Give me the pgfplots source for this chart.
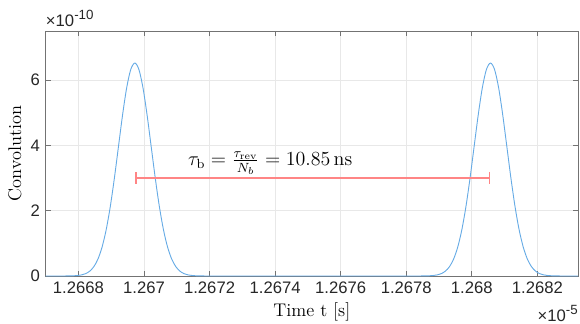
\documentclass[border=0pt]{standalone}
\usepackage{pgfplots}
\pgfplotsset{compat=1.18}
\usepackage{fontspec}
\usetikzlibrary{arrows.meta}
\newfontfamily\helv{Liberation Sans}

\definecolor{convblue}{rgb}{0.40,0.67,0.90}
\definecolor{barred}{rgb}{1.00,0.52,0.52}
\definecolor{axgray}{gray}{0.45}

% Convolution of the bunch profile; time in ns after t0 = 12.660 us,
% amplitude in units of 1e-10.
\begin{document}
\begin{tikzpicture}
\begin{axis}[
  scale only axis,
  width=319.4pt, height=147pt,
  xmin=7, xmax=23.24, ymin=0, ymax=7.5,
  xtick={8,10,12,14,16,18,20,22},
  xticklabels={1.2668,1.267,1.2672,1.2674,1.2676,1.2678,1.268,1.2682},
  ytick={0,2,4,6},
  yticklabels={0,2,4,6},
  tick align=inside,
  major tick length=3pt,
  grid=major,
  major grid style={line width=0.4pt, gray!18},
  axis line style={line width=0.5pt, axgray},
  every tick/.style={axgray, line width=0.5pt},
  tick label style={font=\helv\fontsize{10}{12}\selectfont, text=black!85},
  /pgf/number format/assume math mode=true,
  label style={font=\fontsize{11}{13}\selectfont},
  xlabel={Time t [s]},
  ylabel={Convolution},
  xlabel style={at={(axis description cs:0.5,-0.147)}, anchor=center},
  ylabel style={at={(axis description cs:-0.058,0.5)}, anchor=center},
  clip=false,
]
\addplot[convblue, line width=0.55pt, smooth, tension=0.5, line join=round] coordinates {
  (7.00,0) (7.22,0) (7.47,0.00026) (7.72,0.00219) (7.845,0.00576)
  (7.97,0.01426) (8.095,0.03314) (8.22,0.0724) (8.345,0.1486)
  (8.47,0.2865) (8.595,0.5187) (8.72,0.882) (8.845,1.410)
  (8.97,2.117) (9.095,2.985) (9.22,3.955) (9.345,4.922)
  (9.47,5.754) (9.595,6.319) (9.72,6.52) (9.845,6.319)
  (9.97,5.754) (10.095,4.922) (10.22,3.955) (10.345,2.985)
  (10.47,2.117) (10.595,1.410) (10.72,0.882) (10.845,0.5187)
  (10.97,0.2865) (11.095,0.1486) (11.22,0.0724) (11.345,0.03314)
  (11.47,0.01426) (11.595,0.00576) (11.72,0.00219) (11.97,0.00026)
  (12.22,0) (15.0,0) (18.07,0)
  (18.32,0.00026) (18.57,0.00219) (18.695,0.00576) (18.82,0.01426)
  (18.945,0.03314) (19.07,0.0724) (19.195,0.1486) (19.32,0.2865)
  (19.445,0.5187) (19.57,0.882) (19.695,1.410) (19.82,2.117)
  (19.945,2.985) (20.07,3.955) (20.195,4.922) (20.32,5.754)
  (20.445,6.319) (20.57,6.52) (20.695,6.319) (20.82,5.754)
  (20.945,4.922) (21.07,3.955) (21.195,2.985) (21.32,2.117)
  (21.445,1.410) (21.57,0.882) (21.695,0.5187) (21.82,0.2865)
  (21.945,0.1486) (22.07,0.0724) (22.195,0.03314) (22.32,0.01426)
  (22.445,0.00576) (22.57,0.00219) (22.82,0.00026) (23.07,0) (23.24,0)
};
% bunch spacing between the two peaks: 20.57 - 9.72 = 10.85 ns
\addplot[barred, line width=1.1pt, {Bar[width=7.2pt]-Bar[width=7.2pt]}] coordinates {
  (9.72,3.0) (20.57,3.0)
};
\node[anchor=base, inner sep=0pt, font=\fontsize{12}{14}\selectfont]
  at (axis cs:13.85,3.39)
  {$\tau_\mathrm{b} = \frac{\tau_\mathrm{rev}}{N_b} = 10.85\,\mathrm{ns}$};
\node[anchor=base west, inner sep=0pt, yshift=2.6pt, text=black!85]
  at (rel axis cs:0,1)
  {\helv\fontsize{10}{12}\selectfont ×10\raisebox{4.4pt}{\fontsize{8}{9}\selectfont -10}};
\node[anchor=base east, inner sep=0pt, yshift=-27.3pt, text=black!85]
  at (rel axis cs:1,0)
  {\helv\fontsize{10}{12}\selectfont ×10\raisebox{4.4pt}{\fontsize{8}{9}\selectfont -5}};
\end{axis}
\pgfresetboundingbox
\useasboundingbox ([shift={(-27.4pt,-28.8pt)}]current axis.south west)
  rectangle ([shift={(1.2pt,18.6pt)}]current axis.north east);
\end{tikzpicture}
\end{document}
